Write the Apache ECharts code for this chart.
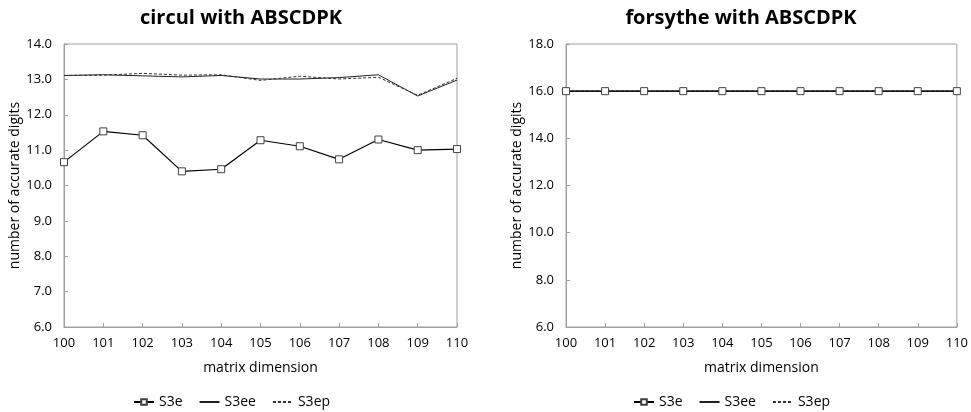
<!DOCTYPE html>
<html>
<head>
<meta charset="utf-8">
<script src="https://cdn.jsdelivr.net/npm/echarts@6/dist/echarts.min.js"></script>
<style>html,body{margin:0;padding:0;background:#fff}#c{width:971px;height:412px}</style>
</head>
<body>
<div id="c"></div>
<script>
var categories = ['100','101','102','103','104','105','106','107','108','109','110'];
var circulS3e  = [10.66, 11.53, 11.42, 10.40, 10.46, 11.28, 11.11, 10.74, 11.30, 11.00, 11.03];
var circulS3ee = [13.11, 13.13, 13.10, 13.07, 13.11, 13.01, 13.01, 13.05, 13.13, 12.53, 12.98];
var circulS3ep = [13.11, 13.12, 13.17, 13.12, 13.13, 12.97, 13.09, 13.01, 13.06, 12.55, 13.03];
var forsytheS3e  = [16.0, 16.0, 16.0, 16.0, 16.0, 16.0, 16.0, 16.0, 16.0, 16.0, 16.0];
var forsytheS3ee = [16.0, 16.0, 16.0, 16.0, 16.0, 16.0, 16.0, 16.0, 16.0, 16.0, 16.0];
var forsytheS3ep = [16.0, 16.0, 16.0, 16.0, 16.0, 16.0, 16.0, 16.0, 16.0, 16.0, 16.0];
var titles = ['circul with ABSCDPK', 'forsythe with ABSCDPK'];
var seriesNames = ['S3e', 'S3ee', 'S3ep'];

var FONT = 'Open Sans';
var chart = echarts.init(document.getElementById('c'), null, {renderer: 'canvas'});

function xAxis(gi) {
  return {
    type: 'category', gridIndex: gi, data: categories, boundaryGap: false,
    name: 'matrix dimension', nameLocation: 'middle', nameGap: 34,
    nameTextStyle: {fontFamily: FONT, fontSize: 14, color: '#000'},
    axisLine: {lineStyle: {color: '#a0a0a0', width: 1}},
    axisTick: {show: true, inside: true, length: 4, alignWithLabel: true, lineStyle: {color: '#a0a0a0'}},
    axisLabel: {fontFamily: FONT, fontSize: 13, color: '#000', margin: 10},
    splitLine: {show: false}
  };
}
function yAxis(gi, min, max, interval) {
  return {
    type: 'value', gridIndex: gi, min: min, max: max, interval: interval,
    name: 'number of accurate digits', nameLocation: 'middle', nameGap: 38, nameRotate: 90,
    nameTextStyle: {fontFamily: FONT, fontSize: 14, color: '#000'},
    axisLine: {show: true, lineStyle: {color: '#a0a0a0', width: 1}},
    axisTick: {show: true, inside: true, length: 4, lineStyle: {color: '#a0a0a0'}},
    axisLabel: {fontFamily: FONT, fontSize: 13, color: '#000', margin: 12,
      formatter: function (v) { return v.toFixed(1); }},
    splitLine: {show: false}
  };
}
function mkSeries(gi, name, data) {
  var s = {
    name: name, type: 'line', xAxisIndex: gi, yAxisIndex: gi, data: data,
    animation: false, z: name === 'S3e' ? 5 : (name === 'S3ee' ? 3 : 4)
  };
  if (name === 'S3e') {
    s.symbol = 'rect'; s.symbolSize = 7; s.showSymbol = true;
    s.lineStyle = {color: '#000', width: 1.2};
    s.itemStyle = {color: '#fff', borderColor: '#404040', borderWidth: 1};
  } else if (name === 'S3ee') {
    s.symbol = 'none';
    s.lineStyle = {color: '#202020', width: 1};
    s.itemStyle = {color: '#202020'};
  } else {
    s.symbol = 'none';
    s.lineStyle = {color: '#303030', width: 1, type: [3, 2]};
    s.itemStyle = {color: '#303030'};
  }
  return s;
}
function legendData() {
  return [
    {name: 'S3e'},
    {name: 'S3ee', itemStyle: {color: 'rgba(0,0,0,0)', borderColor: 'rgba(0,0,0,0)', borderWidth: 0}},
    {name: 'S3ep', itemStyle: {color: 'rgba(0,0,0,0)', borderColor: 'rgba(0,0,0,0)', borderWidth: 0}}
  ];
}

var option = {
  backgroundColor: '#fff',
  animation: false,
  title: [
    {text: titles[0], left: 236, top: 3, textAlign: 'center',
     textStyle: {fontFamily: FONT, fontSize: 20, fontWeight: 'bold', color: '#000'}},
    {text: titles[1], left: 736, top: 3, textAlign: 'center',
     textStyle: {fontFamily: FONT, fontSize: 20, fontWeight: 'bold', color: '#000'}}
  ],
  grid: [
    {left: 64, right: 514, top: 44, bottom: 85, show: true, borderColor: '#a0a0a0', borderWidth: 1, containLabel: false},
    {left: 566, right: 14, top: 44, bottom: 85, show: true, borderColor: '#a0a0a0', borderWidth: 1, containLabel: false}
  ],
  legend: [
    {data: legendData(), left: 128, top: 390, itemWidth: 20, itemHeight: 7, itemGap: 16,
     textStyle: {fontFamily: FONT, fontSize: 14, color: '#000'}, selectedMode: false},
    {data: legendData(), left: 628, top: 390, itemWidth: 20, itemHeight: 7, itemGap: 16,
     textStyle: {fontFamily: FONT, fontSize: 14, color: '#000'}, selectedMode: false}
  ],
  xAxis: [xAxis(0), xAxis(1)],
  yAxis: [yAxis(0, 6, 14, 1), yAxis(1, 6, 18, 2)],
  series: [
    mkSeries(0, 'S3ee', circulS3ee),
    mkSeries(0, 'S3ep', circulS3ep),
    mkSeries(0, 'S3e', circulS3e),
    mkSeries(1, 'S3ee', forsytheS3ee),
    mkSeries(1, 'S3ep', forsytheS3ep),
    mkSeries(1, 'S3e', forsytheS3e)
  ]
};
chart.setOption(option);
</script>
</body>
</html>
